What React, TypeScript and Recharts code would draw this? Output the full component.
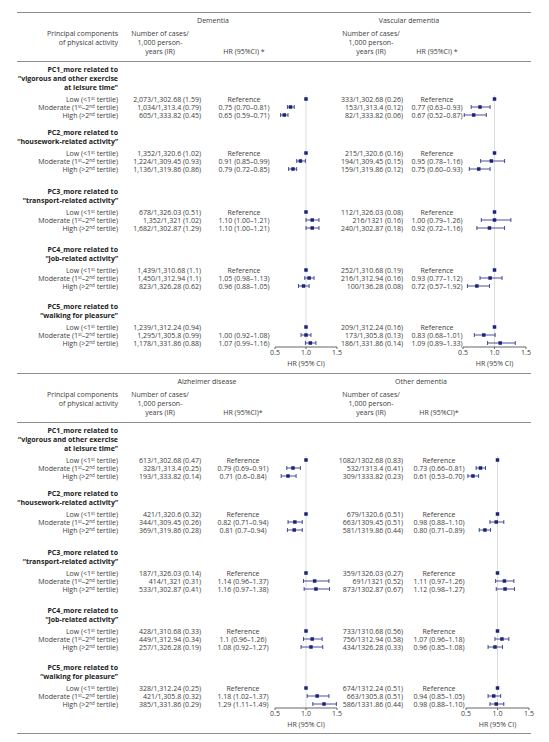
import React from 'react';
import { ScatterChart, Scatter, XAxis, YAxis, ReferenceLine, ErrorBar } from 'recharts';

// ---- data ----
const GROUP_TITLES = [
  ['PC1_more related to', '\u201Cvigorous and other exercise', 'at leisure time\u201D'],
  ['PC2_more related to', '\u201Chousework-related activity\u201D'],
  ['PC3_more related to', '\u201Ctransport-related activity\u201D'],
  ['PC4_more related to', '\u201Cjob-related activity\u201D'],
  ['PC5_more related to', '\u201Cwalking for pleasure\u201D'],
];
const AXIS_TICKS = [0.5, 1, 1.5];

const DEM_CASES = [
  '2,073/1,302.68 (1.59)', '1,034/1,313.4 (0.79)', '605/1,333.82 (0.45)',
  '1,352/1,320.6 (1.02)', '1,224/1,309.45 (0.93)', '1,136/1,319.86 (0.86)',
  '678/1,326.03 (0.51)', '1,352/1,321 (1.02)', '1,682/1,302.87 (1.29)',
  '1,439/1,310.68 (1.1)', '1,450/1,312.94 (1.1)', '823/1,326.28 (0.62)',
  '1,239/1,312.24 (0.94)', '1,295/1,305.8 (0.99)', '1,178/1,331.86 (0.88)',
];
const DEM_HR_TEXT = [
  'Reference', '0.75 (0.70\u20130.81)', '0.65 (0.59\u20130.71)',
  'Reference', '0.91 (0.85\u20130.99)', '0.79 (0.72\u20130.85)',
  'Reference', '1.10 (1.00\u20131.21)', '1.10 (1.00\u20131.21)',
  'Reference', '1.05 (0.98\u20131.13)', '0.96 (0.88\u20131.05)',
  '', '1.00 (0.92\u20131.08)', '1.07 (0.99\u20131.16)',
];
const DEM_HR = [1, 0.75, 0.65, 1, 0.91, 0.79, 1, 1.1, 1.1, 1, 1.05, 0.96, 1, 1.0, 1.07];
const DEM_LO = [1, 0.7, 0.59, 1, 0.85, 0.72, 1, 1.0, 1.0, 1, 0.98, 0.88, 1, 0.92, 0.99];
const DEM_HI = [1, 0.81, 0.71, 1, 0.99, 0.85, 1, 1.21, 1.21, 1, 1.13, 1.05, 1, 1.08, 1.16];

const VAS_CASES = [
  '333/1,302.68 (0.26)', '153/1,313.4 (0.12)', '82/1,333.82 (0.06)',
  '215/1,320.6 (0.16)', '194/1,309.45 (0.15)', '159/1,319.86 (0.12)',
  '112/1,326.03 (0.08)', '216/1321 (0.16)', '240/1,302.87 (0.18)',
  '252/1,310.68 (0.19)', '216/1,312.94 (0.16)', '100/136.28 (0.08)',
  '209/1,312.24 (0.16)', '173/1,305.8 (0.13)', '186/1,331.86 (0.14)',
];
const VAS_HR_TEXT = [
  'Reference', '0.77 (0.63\u20130.93)', '0.67 (0.52\u20130.87)',
  'Reference', '0.95 (0.78\u20131.16)', '0.75 (0.60\u20130.93)',
  'Reference', '1.00 (0.79\u20131.26)', '0.92 (0.72\u20131.16)',
  'Reference', '0.93 (0.77\u20131.12)', '0.72 (0.57\u20131.92)',
  'Reference', '0.83 (0.68\u20131.01)', '1.09 (0.89\u20131.33)',
];
const VAS_HR = [1, 0.77, 0.67, 1, 0.95, 0.75, 1, 1.0, 0.92, 1, 0.93, 0.72, 1, 0.83, 1.09];
const VAS_LO = [1, 0.63, 0.52, 1, 0.78, 0.6, 1, 0.79, 0.72, 1, 0.77, 0.57, 1, 0.68, 0.89];
const VAS_HI = [1, 0.93, 0.87, 1, 1.16, 0.93, 1, 1.26, 1.16, 1, 1.12, 0.92, 1, 1.01, 1.33];

const ALZ_CASES = [
  '613/1,302.68 (0.47)', '328/1,313.4 (0.25)', '193/1,333.82 (0.14)',
  '421/1,320.6 (0.32)', '344/1,309.45 (0.26)', '369/1,319.86 (0.28)',
  '187/1,326.03 (0.14)', '414/1,321 (0.31)', '533/1,302.87 (0.41)',
  '428/1,310.68 (0.33)', '449/1,312.94 (0.34)', '257/1,326.28 (0.19)',
  '328/1,312.24 (0.25)', '421/1,305.8 (0.32)', '385/1,331.86 (0.29)',
];
const ALZ_HR_TEXT = [
  'Reference', '0.79 (0.69\u20130.91)', '0.71 (0.6\u20130.84)',
  'Reference', '0.82 (0.71\u20130.94)', '0.81 (0.7\u20130.94)',
  'Reference', '1.14 (0.96\u20131.37)', '1.16 (0.97\u20131.38)',
  'Reference', '1.1 (0.96\u20131.26)', '1.08 (0.92\u20131.27)',
  'Reference', '1.18 (1.02\u20131.37)', '1.29 (1.11\u20131.49)',
];
const ALZ_HR = [1, 0.79, 0.71, 1, 0.82, 0.81, 1, 1.14, 1.16, 1, 1.1, 1.08, 1, 1.18, 1.29];
const ALZ_LO = [1, 0.69, 0.6, 1, 0.71, 0.7, 1, 0.96, 0.97, 1, 0.96, 0.92, 1, 1.02, 1.11];
const ALZ_HI = [1, 0.91, 0.84, 1, 0.94, 0.94, 1, 1.37, 1.38, 1, 1.26, 1.27, 1, 1.37, 1.49];

const OTH_CASES = [
  '1082/1302.68 (0.83)', '532/1313.4 (0.41)', '309/1333.82 (0.23)',
  '679/1320.6 (0.51)', '663/1309.45 (0.51)', '581/1319.86 (0.44)',
  '359/1326.03 (0.27)', '691/1321 (0.52)', '873/1302.87 (0.67)',
  '733/1310.68 (0.56)', '756/1312.94 (0.58)', '434/1326.28 (0.33)',
  '674/1312.24 (0.51)', '663/1305.8 (0.51)', '586/1331.86 (0.44)',
];
const OTH_HR_TEXT = [
  'Reference', '0.73 (0.66\u20130.81)', '0.61 (0.53\u20130.70)',
  'Reference', '0.98 (0.88\u20131.10)', '0.80 (0.71\u20130.89)',
  'Reference', '1.11 (0.97\u20131.26)', '1.12 (0.98\u20131.27)',
  'Reference', '1.07 (0.96\u20131.18)', '0.96 (0.85\u20131.08)',
  'Reference', '0.94 (0.85\u20131.05)', '0.98 (0.88\u20131.10)',
];
const OTH_HR = [1, 0.73, 0.61, 1, 0.98, 0.8, 1, 1.11, 1.12, 1, 1.07, 0.96, 1, 0.94, 0.98];
const OTH_LO = [1, 0.66, 0.53, 1, 0.88, 0.71, 1, 0.97, 0.98, 1, 0.96, 0.85, 1, 0.85, 0.88];
const OTH_HI = [1, 0.81, 0.7, 1, 1.1, 0.89, 1, 1.26, 1.27, 1, 1.18, 1.08, 1, 1.05, 1.1];

// ---- layout ----
const NAVY = '#1c237a';
const TEXT = '#3c3c3c';
const RULE = '#8e8e8e';
const FONT = '"Open Sans", "Noto Sans", sans-serif';
const GROUP_TOP = [69, 132, 191, 249, 306];
const AXIS_Y = 347;
const PLOT_TOP = 95;

const rowY = (g: number, r: number) =>
  GROUP_TOP[g] + (GROUP_TITLES[g].length - 1) * 9 + 12 + r * 8;
const ROW_YS = GROUP_TITLES.flatMap((_, g) => [0, 1, 2].map((r) => rowY(g, r)));

function Txt({ x, y, align = 'left', bold = false, size = 7, color = TEXT, children }: any) {
  const tx = align === 'right' ? '-100%' : align === 'center' ? '-50%' : '0';
  return (
    <div
      style={{
        position: 'absolute', left: x, top: y, transform: `translate(${tx},-50%)`,
        whiteSpace: 'nowrap', fontSize: size, lineHeight: 1, fontWeight: bold ? 700 : 400, color,
      }}
    >
      {children}
    </div>
  );
}

const Sup = ({ children }: any) => (
  <span style={{ fontSize: 4.5, position: 'relative', top: -2 }}>{children}</span>
);

const LEVEL_LABELS = [
  <>Low (&lt;1<Sup>st</Sup> tertile)</>,
  <>Moderate (1<Sup>st</Sup>–2<Sup>nd</Sup> tertile)</>,
  <>High (&gt;2<Sup>nd</Sup> tertile)</>,
];

function Rule({ y }: { y: number }) {
  return <div style={{ position: 'absolute', left: 17, width: 514, top: y, height: 1, background: RULE }} />;
}

const Square = (p: any) => <rect x={p.cx - 1.75} y={p.cy - 1.75} width={3.5} height={3.5} fill={NAVY} />;

function Forest({ hr, lo, hi, x05, x15, dy }: any) {
  const pad = 20;
  const data = hr.map((v: number, i: number) => ({
    hr: v,
    y: ROW_YS[i] + dy,
    err: lo[i] === hi[i] ? undefined : [v - lo[i], hi[i] - v],
  }));
  const top = PLOT_TOP + dy;
  const axisY = AXIS_Y + dy;
  return (
    <div style={{ position: 'absolute', left: x05 - pad, top }}>
      <ScatterChart width={x15 - x05 + 2 * pad} height={axisY - top + 20} margin={{ top: 0, right: pad, bottom: 0, left: pad }}>
        <XAxis
          type="number" dataKey="hr" domain={[0.5, 1.5]} ticks={AXIS_TICKS} allowDataOverflow height={20}
          tickFormatter={(v: number) => v.toFixed(1)} tickSize={2} tickMargin={1}
          axisLine={{ stroke: '#666' }} tickLine={{ stroke: '#666' }}
          tick={{ fontSize: 7, fill: TEXT, fontFamily: FONT }}
        />
        <YAxis type="number" dataKey="y" domain={[top, axisY]} reversed hide allowDataOverflow />
        <ReferenceLine x={1} stroke="#dcdcdc" strokeWidth={1} />
        <Scatter data={data} shape={Square} isAnimationActive={false}>
          <ErrorBar dataKey="err" direction="x" width={2} stroke={NAVY} strokeWidth={0.8} />
        </Scatter>
      </ScatterChart>
      <Txt x={pad + (1 - 0.5) * (x15 - x05)} y={axisY - top + 16} align="center">HR (95% CI)</Txt>
    </div>
  );
}

function Column({ d, dy }: any) {
  return (
    <>
      <Txt x={d.titleX} y={20 + dy} align="center">{d.name}</Txt>
      <Txt x={d.headX} y={33 + dy} align="center">Number of cases/</Txt>
      <Txt x={d.headX} y={42 + dy} align="center">1,000 person-</Txt>
      <Txt x={d.headX} y={51 + dy} align="center">years (IR)</Txt>
      <Txt x={d.hrX} y={51 + dy} align="center">{d.hrHead}</Txt>
      {d.cases.map((c: string, i: number) => (
        <Txt key={'c' + i} x={d.casesX} y={ROW_YS[i] + dy} align="right">{c}</Txt>
      ))}
      {d.hrText.map((c: string, i: number) => (
        <Txt key={'h' + i} x={d.hrX} y={ROW_YS[i] + dy} align="center">{c}</Txt>
      ))}
      <Forest hr={d.hr} lo={d.lo} hi={d.hi} x05={d.x05} x15={d.x15} dy={dy} />
    </>
  );
}

function Panel({ dy, left, right }: any) {
  return (
    <>
      <Rule y={12 + dy} />
      <Rule y={61 + dy} />
      <Txt x={118} y={33 + dy} align="right">Principal components</Txt>
      <Txt x={118} y={42 + dy} align="right">of physical activity</Txt>
      {GROUP_TITLES.map((lines, g) => (
        <React.Fragment key={g}>
          {lines.map((t, k) => (
            <Txt key={k} x={118} y={GROUP_TOP[g] + k * 9 + dy} align="right" bold color="#222">{t}</Txt>
          ))}
          {LEVEL_LABELS.map((lab, r) => (
            <Txt key={'l' + r} x={118} y={rowY(g, r) + dy} align="right">{lab}</Txt>
          ))}
        </React.Fragment>
      ))}
      <Column d={left} dy={dy} />
      <Column d={right} dy={dy} />
    </>
  );
}

const DEMENTIA = {
  name: 'Dementia', hrHead: 'HR (95%CI) *', cases: DEM_CASES, hrText: DEM_HR_TEXT, hr: DEM_HR, lo: DEM_LO, hi: DEM_HI,
  titleX: 213, headX: 160, casesX: 201, hrX: 244, x05: 275, x15: 337,
};
const VASCULAR = {
  name: 'Vascular dementia', hrHead: 'HR (95%CI) *', cases: VAS_CASES, hrText: VAS_HR_TEXT, hr: VAS_HR, lo: VAS_LO, hi: VAS_HI,
  titleX: 409, headX: 371, casesX: 403, hrX: 437, x05: 463, x15: 526,
};
const ALZHEIMER = {
  name: 'Alzheimer disease', hrHead: 'HR (95%CI)*', cases: ALZ_CASES, hrText: ALZ_HR_TEXT, hr: ALZ_HR, lo: ALZ_LO, hi: ALZ_HI,
  titleX: 207, headX: 160, casesX: 201, hrX: 243, x05: 275, x15: 337,
};
const OTHER = {
  name: 'Other dementia', hrHead: 'HR (95%CI)*', cases: OTH_CASES, hrText: OTH_HR_TEXT, hr: OTH_HR, lo: OTH_LO, hi: OTH_HI,
  titleX: 421, headX: 371, casesX: 403, hrX: 439, x05: 466, x15: 529,
};

export default function App() {
  return (
    <div style={{ position: 'absolute', left: 0, top: 0, width: 549, height: 742, background: '#fff', fontFamily: FONT, overflow: 'hidden' }}>
      <Panel dy={0} left={DEMENTIA} right={VASCULAR} />
      <Panel dy={361} left={ALZHEIMER} right={OTHER} />
      <Rule y={733} />
    </div>
  );
}
